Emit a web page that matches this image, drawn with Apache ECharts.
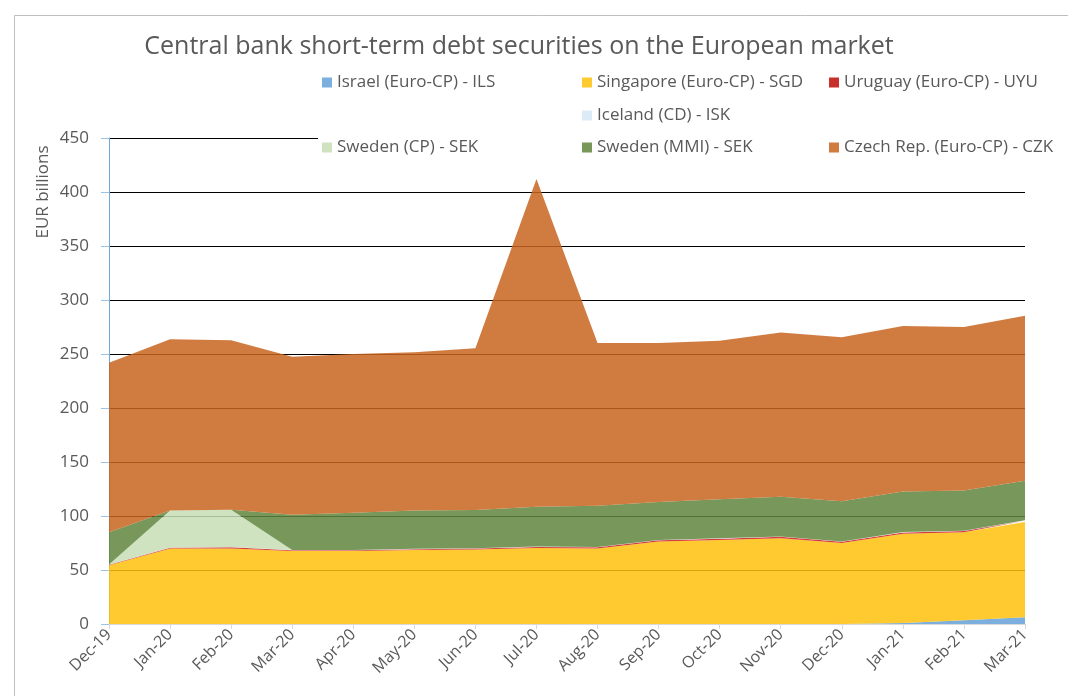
<!DOCTYPE html>
<html>
<head>
<meta charset="utf-8">
<script src="https://cdn.jsdelivr.net/npm/echarts@6/dist/echarts.min.js"></script>
<style>html,body{margin:0;padding:0;background:#fff;}#c{width:1068px;height:696px;}</style>
</head>
<body>
<div id="c"></div>
<script>
const months = ['Dec-19','Jan-20','Feb-20','Mar-20','Apr-20','May-20','Jun-20','Jul-20','Aug-20','Sep-20','Oct-20','Nov-20','Dec-20','Jan-21','Feb-21','Mar-21'];
const israel    = [0,0,0,0,0,0,0,0,0,0,0,0,0,1,3.4,6.2];
const singapore = [54.5,70,70,67.5,67.5,68.5,69,70.4,70,76.5,77.8,79.5,75,82.6,81.5,88.3];
const uruguay   = [0.3,0.5,1,0.8,0.8,0.8,0.8,1,1,1,1.2,1.2,1.2,1.2,1.2,1.2];
const iceland   = [0.2,0.3,0.3,0.3,0.3,0.3,0.3,0.3,0.3,0.3,0.3,0.3,0.3,0.3,0.3,0.3];
const swedenCP  = [0,34.2,34.4,0,0,0,0,0,0,0,0,0,0,0,0,0];
const swedenMMI = [30,0,0,32.6,34.4,35.4,35.5,36.9,38.2,35.2,36.1,36.9,37.1,37.7,37.1,36.7];
const czech     = [157,158.6,157,146.3,147,146.6,149.7,303.4,150.7,147.2,146.9,152.1,151.8,153.2,151.5,152.8];
const yTicks = {min:0, max:450, interval:50};

const seriesDefs = [
  {name:'Israel (Euro-CP) - ILS', data:israel, legend:'#7DAFDE', fill:'rgba(102,161,216,0.85)'},
  {name:'Singapore (Euro-CP) - SGD', data:singapore, legend:'#FFCA30', fill:'rgba(255,193,12,0.85)'},
  {name:'Uruguay (Euro-CP) - UYU', data:uruguay, legend:'#C9302C', fill:'rgba(210,40,40,0.9)'},
  {name:'Iceland (CD) - ISK', data:iceland, legend:'#DDEBF7', fill:'rgba(225,236,247,0.9)'},
  {name:'Sweden (CP) - SEK', data:swedenCP, legend:'#D0E3C0', fill:'rgba(200,222,181,0.85)'},
  {name:'Sweden (MMI) - SEK', data:swedenMMI, legend:'#77985A', fill:'rgba(95,134,61,0.85)'},
  {name:'Czech Rep. (Euro-CP) - CZK', data:czech, legend:'#D07B40', fill:'rgba(200,100,30,0.85)'}
];
const legendPos = [
  [322,82],[582,82],[829,82],
  [582,115],
  [322,147],[582,147],[829,147]
];
const FONT = 'Open Sans';
const TXT = '#595959';

const chart = echarts.init(document.getElementById('c'));
chart.setOption({
  animation:false,
  backgroundColor:'#fff',
  textStyle:{fontFamily:FONT},
  title:{
    text:'Central bank short-term debt securities on the European market',
    left:514, top:29, textAlign:'center',
    textStyle:{fontFamily:FONT, fontSize:25, fontWeight:'normal', color:TXT}
  },
  legend: seriesDefs.map((s,i)=>({
    data:[s.name], left:legendPos[i][0], top:legendPos[i][1]-8, padding:0,
    itemWidth:10, itemHeight:10, itemGap:5, icon:'rect', z:200,
    selectedMode:false,
    textStyle:{fontFamily:FONT, fontSize:17, color:TXT, padding:[0,0,0,0]}
  })),
  graphic:[
    {type:'rect', z:-1, silent:true, shape:{x:14.5,y:15.5,width:1200,height:1000}, style:{fill:'none', stroke:'#bfbfbf', lineWidth:1}},
    {type:'rect', z:150, silent:true, shape:{x:318,y:128,width:720,height:30}, style:{fill:'#fff'}},
    {type:'text', z:150, silent:true, x:43, y:192, rotation:Math.PI/2,
     style:{text:'EUR billions', fill:TXT, font:'17px "'+FONT+'"', align:'center', verticalAlign:'middle'}}
  ],
  grid:{left:109, right:43, top:138, bottom:72},
  xAxis:{
    type:'category', data:months, boundaryGap:false,
    axisLine:{lineStyle:{color:'#d9d9d9'}},
    axisTick:{show:true, length:5, lineStyle:{color:'#d9d9d9'}},
    axisLabel:{rotate:45, fontSize:16, color:TXT, fontFamily:FONT, margin:8},
    splitLine:{show:false}
  },
  yAxis:{
    type:'value', min:yTicks.min, max:yTicks.max, interval:yTicks.interval,
    axisLine:{show:true, lineStyle:{color:'#6FA8DC', width:1}},
    axisTick:{show:true, length:8, lineStyle:{color:'#9DC3E6'}},
    axisLabel:{fontSize:17, color:TXT, fontFamily:FONT, margin:20},
    splitLine:{show:true, lineStyle:{color:'#000', width:1}}
  },
  series: seriesDefs.map(s=>({
    name:s.name, type:'line', stack:'total', data:s.data,
    symbol:'none', color:s.legend,
    lineStyle:{width:0},
    areaStyle:{color:s.fill, opacity:1},
    z:2
  }))
});
</script>
</body>
</html>
